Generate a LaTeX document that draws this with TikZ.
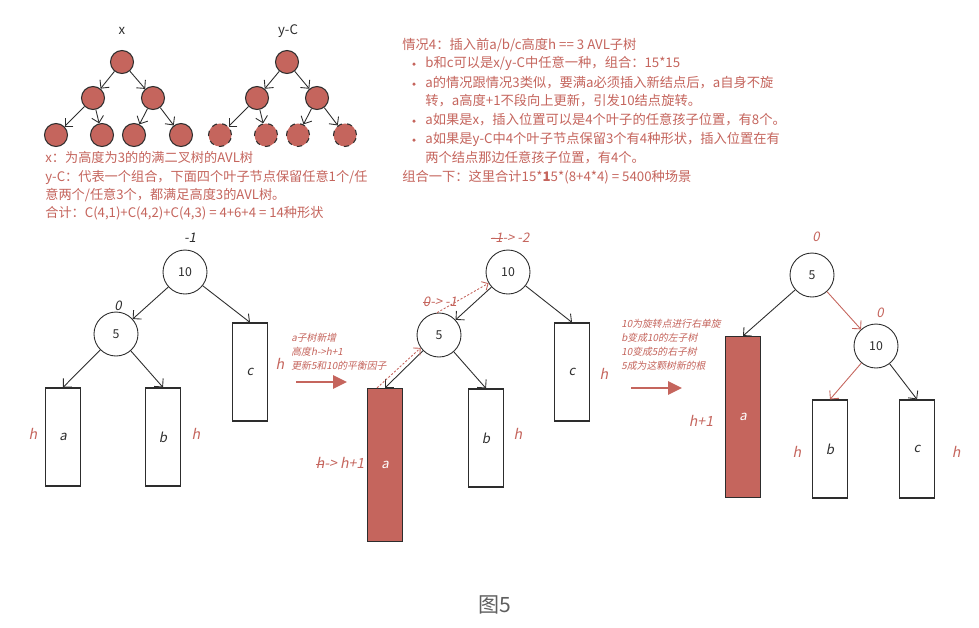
\documentclass[tikz,border=0pt]{standalone}
\usepackage{fontspec}
\setmainfont{Noto Sans CJK SC}
\newfontfamily\slfont{Noto Sans CJK SC}[FakeSlant=0.2]
\usetikzlibrary{positioning, arrows.meta}

\definecolor{avlred}{RGB}{197,101,93}
\definecolor{ink}{RGB}{45,45,45}
\definecolor{capgray}{RGB}{95,95,95}
\newcommand{\strk}[1]{\setbox0\hbox{#1}\rlap{\rule[0.5ex]{\wd0}{0.45pt}}\box0}

\begin{document}
\begin{tikzpicture}[x=0.02cm, y=-0.02cm,
			ball/.style={circle, draw=ink, fill=avlred, line width=0.6pt, minimum size=0.46cm, inner sep=0pt},
			hole/.style={ball, dashed},
			key/.style={circle, draw=ink, fill=white, line width=0.5pt, minimum size=0.88cm, inner sep=0pt, font=\fontsize{7}{8}\selectfont, text=ink},
			sub/.style={draw=ink, line width=0.7pt, minimum width=0.7cm, minimum height=1.96cm, inner sep=0pt, font=\slfont\fontsize{7.5}{8}\selectfont, text=ink},
			subred/.style={sub, fill=avlred, text=white},
			bf/.style={font=\slfont\fontsize{7.5}{8}\selectfont, text=ink},
			hl/.style={font=\slfont\fontsize{8}{9}\selectfont, text=avlred},
			memo/.style={font=\slfont\fontsize{5.6}{8}\selectfont, text=avlred, anchor=west, align=left, inner sep=0pt},
			txt/.style={font=\fontsize{7.55}{9}\selectfont, text=avlred, anchor=west, inner sep=0pt},
			dot/.style={circle, fill=avlred, inner sep=0pt, minimum size=0.07cm},
			edge/.style={-{Straight Barb[length=1.2mm]}, draw=ink, line width=0.5pt},
			redge/.style={edge, draw=avlred},
			trace/.style={-{Straight Barb[length=1mm]}, draw=avlred, line width=0.5pt, dash pattern=on 1.2pt off 1pt},
			big/.style={-{Triangle[length=0.28cm, width=0.26cm]}, draw=avlred, line width=1.6pt}]
			\fill[white] (0,0) rectangle (979,627);
			\useasboundingbox (0,0) rectangle (979,627);

			% full tree x and the y-C shapes
			\node[font=\fontsize{7.5}{9}\selectfont, text=ink] (xname) at (122,31) {x};
			\node[ball] (x1) at (122,62) {};
			\node[ball] (x2) at (93,98) {};
			\node[ball] (x3) at (153,98) {};
			\node[ball] (x4) at (56,135) {};
			\node[ball] (x5) at (102,135) {};
			\node[ball] (x6) at (134,135) {};
			\node[ball] (x7) at (181,135) {};
			\draw[edge] (x1) -- (x2);
			\draw[edge] (x1) -- (x3);
			\draw[edge] (x2) -- (x4);
			\draw[edge] (x2) -- (x5);
			\draw[edge] (x3) -- (x6);
			\draw[edge] (x3) -- (x7);

			\node[font=\fontsize{7.5}{9}\selectfont, text=ink] (yname) at (288,31) {y-C};
			\node[ball] (y1) at (287,62) {};
			\node[ball] (y2) at (257,98) {};
			\node[ball] (y3) at (317,98) {};
			\node[hole] (y4) at (220,135) {};
			\node[hole] (y5) at (266,135) {};
			\node[hole] (y6) at (298,135) {};
			\node[hole] (y7) at (345,135) {};
			\draw[edge] (y1) -- (y2);
			\draw[edge] (y1) -- (y3);
			\draw[edge] (y2) -- (y4);
			\draw[edge] (y2) -- (y5);
			\draw[edge] (y3) -- (y6);
			\draw[edge] (y3) -- (y7);

			\node[txt, align=left, font=\fontsize{7.5}{10.4}\selectfont] (shapes) at (45,186) {x：为高度为3的的满二叉树的AVL树\\
				y-C：代表一个组合，下面四个叶子节点保留任意1个/任\\
				意两个/任意3个，都满足高度3的AVL树。\\
				合计：C(4,1)+C(4,2)+C(4,3) = 4+6+4 = 14种形状};

			% case 4 notes
			\node[txt] (c0) at (402,45) {情况4：插入前a/b/c高度h == 3 AVL子树};
			\node[dot] (d1) at (414,64) {};
			\node[txt] (c1) at (425,63) {b和c可以是x/y-C中任意一种，组合：15*15};
			\node[dot] (d2) at (414,84) {};
			\node[txt] (c2) at (425,83) {a的情况跟情况3类似，要满a必须插入新结点后，a自身不旋};
			\node[txt] (c3) at (425,101) {转，a高度+1不段向上更新，引发10结点旋转。};
			\node[dot] (d4) at (414,121) {};
			\node[txt] (c4) at (425,120) {a如果是x，插入位置可以是4个叶子的任意孩子位置，有8个。};
			\node[dot] (d5) at (414,140) {};
			\node[txt] (c5) at (425,139) {a如果是y-C中4个叶子节点保留3个有4种形状，插入位置在有};
			\node[txt] (c6) at (425,158) {两个结点那边任意孩子位置，有4个。};
			\node[txt] (c7) at (402,177) {组合一下：这里合计15*\textbf{1}5*(8+4*4) = 5400种场景};

			% before insert
			\node[key] (p10) at (185,272) {10};
			\node[key] (p5) at (116,334) {5};
			\node[sub] (pa) at (63,437) {a};
			\node[sub] (pb) at (163,437) {b};
			\node[sub] (pc) at (250,372) {c};
			\node[bf] (pbf10) at (190,238) {-1};
			\node[bf] (pbf5) at (118,306) {0};
			\node[hl] (pha) at (33,434) {h};
			\node[hl] (phb) at (196,434) {h};
			\node[hl] (phc) at (280,364) {h};
			\draw[edge] (p10) -- (p5);
			\draw[edge] (p10) -- (pc.north);
			\draw[edge] (p5) -- (pa.north);
			\draw[edge] (p5) -- (pb.north);

			\node[memo] (grow) at (291,352) {a子树新增\\ 高度h->h+1\\ 更新5和10的平衡因子};
			\coordinate (g1) at (296,382);
			\coordinate (g2) at (347,382);
			\draw[big] (g1) -- (g2);

			% after insert
			\node[key] (q10) at (508,272) {10};
			\node[key] (q5) at (439,335) {5};
			\node[subred, minimum height=3.06cm] (qa) at (385,465) {a};
			\node[sub] (qb) at (486,438) {b};
			\node[sub] (qc) at (572,372) {c};
			\node[hl, font=\slfont\fontsize{7.5}{8}\selectfont] (qbf10) at (510,238) {\strk{-1} -> -2};
			\node[hl, font=\slfont\fontsize{7.5}{8}\selectfont] (qbf5) at (440,302) {\strk{0} -> -1};
			\node[hl] (qha) at (340,463) {\strk{h} -> h+1};
			\node[hl] (qhb) at (518,434) {h};
			\node[hl] (qhc) at (604,374) {h};
			\draw[edge] (q10) -- (q5);
			\draw[edge] (q10) -- (qc.north);
			\draw[edge] (q5) -- (qa.north);
			\draw[edge] (q5) -- (qb.north);
			\draw[trace] ([xshift=-0.16cm]qa.north) -- (q5.215);
			\draw[trace] (q5.95) -- (q10.210);

			\node[memo] (turn) at (621,345) {10为旋转点进行右单旋\\ b变成10的左子树\\ 10变成5的右子树\\ 5成为这颗树新的根};
			\coordinate (t1) at (631,388);
			\coordinate (t2) at (682,388);
			\draw[big] (t1) -- (t2);

			% after right rotation
			\node[key] (r5) at (812,275) {5};
			\node[key] (r10) at (876,346) {10};
			\node[subred, minimum height=3.22cm] (ra) at (743,417) {a};
			\node[sub] (rb) at (830,449) {b};
			\node[sub] (rc) at (917,449) {c};
			\node[hl, font=\slfont\fontsize{7.5}{8}\selectfont] (rbf5) at (816,237) {0};
			\node[hl, font=\slfont\fontsize{7.5}{8}\selectfont] (rbf10) at (880,313) {0};
			\node[hl] (rha) at (701,421) {h+1};
			\node[hl] (rhb) at (797,452) {h};
			\node[hl] (rhc) at (956,452) {h};
			\draw[edge] (r5) -- (ra.north);
			\draw[redge] (r5) -- (r10);
			\draw[redge] (r10) -- (rb.north);
			\draw[edge] (r10) -- (rc.north);

			\node[font=\fontsize{12}{14}\selectfont, text=capgray] (cap) at (495,605) {图5};
		\end{tikzpicture}
\end{document}
